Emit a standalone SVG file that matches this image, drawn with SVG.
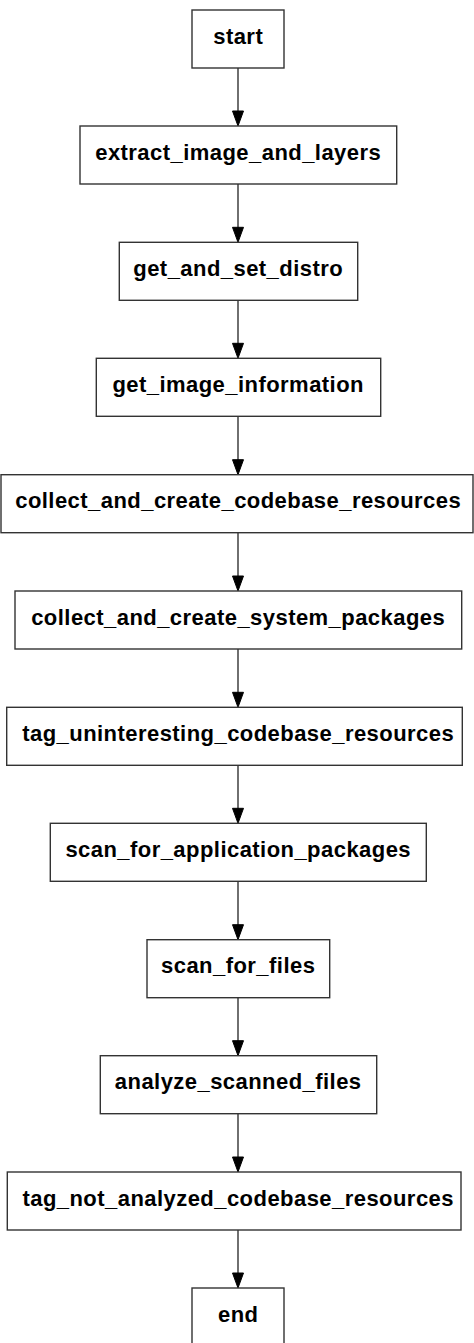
<svg xmlns="http://www.w3.org/2000/svg" width="474" height="1343" viewBox="0 0 474 1343">
<style>
.n rect{fill:#fff;stroke:#333;stroke-width:1.4}
.n text{font-family:"Liberation Sans",Arial,sans-serif;font-weight:bold;font-size:22px;letter-spacing:0.45px;fill:#000;text-anchor:middle}
.e line{stroke:#333;stroke-width:1.4}
.e polygon{fill:#000;stroke:#000;stroke-width:1}
</style>
<rect width="474" height="1343" fill="#fff"/>
<g class="e">
<line x1="238" y1="68" x2="238" y2="112"/><polygon points="232.5,111 243.5,111 238,126"/>
<line x1="238" y1="184" x2="238" y2="228"/><polygon points="232.5,227.3 243.5,227.3 238,242.3"/>
<line x1="238" y1="300.3" x2="238" y2="344"/><polygon points="232.5,343.3 243.5,343.3 238,358.3"/>
<line x1="238" y1="416.3" x2="238" y2="460"/><polygon points="232.5,459.7 243.5,459.7 238,474.7"/>
<line x1="238" y1="532.7" x2="238" y2="577"/><polygon points="232.5,576 243.5,576 238,591"/>
<line x1="238" y1="649" x2="238" y2="693"/><polygon points="232.5,692.3 243.5,692.3 238,707.3"/>
<line x1="238" y1="765.3" x2="238" y2="809"/><polygon points="232.5,808.3 243.5,808.3 238,823.3"/>
<line x1="238" y1="881.3" x2="238" y2="925"/><polygon points="232.5,924.7 243.5,924.7 238,939.7"/>
<line x1="238" y1="997.7" x2="238" y2="1041"/><polygon points="232.5,1040.7 243.5,1040.7 238,1055.7"/>
<line x1="238" y1="1113.7" x2="238" y2="1158"/><polygon points="232.5,1157 243.5,1157 238,1172"/>
<line x1="238" y1="1230" x2="238" y2="1274"/><polygon points="232.5,1273 243.5,1273 238,1288"/>
</g>
<g id="start" class="n"><rect x="192" y="10" width="92" height="58"/><text x="238.2" y="43.5">start</text></g>
<g id="extract_image_and_layers" class="n"><rect x="80" y="126" width="316.7" height="58"/><text x="238.2" y="159.5">extract_image_and_layers</text></g>
<g id="get_and_set_distro" class="n"><rect x="119.3" y="242.3" width="238.4" height="58"/><text x="238.2" y="275.8">get_and_set_distro</text></g>
<g id="get_image_information" class="n"><rect x="96.3" y="358.3" width="284.4" height="58"/><text x="238.2" y="391.8">get_image_information</text></g>
<g id="collect_and_create_codebase_resources" class="n"><rect x="1" y="474.7" width="472" height="58"/><text x="238.2" y="508.2">collect_and_create_codebase_resources</text></g>
<g id="collect_and_create_system_packages" class="n"><rect x="15" y="591" width="446.7" height="58"/><text x="238.2" y="624.5">collect_and_create_system_packages</text></g>
<g id="tag_uninteresting_codebase_resources" class="n"><rect x="6.7" y="707.3" width="455.6" height="58"/><text x="238.2" y="740.8">tag_uninteresting_codebase_resources</text></g>
<g id="scan_for_application_packages" class="n"><rect x="50.3" y="823.3" width="376" height="58"/><text x="238.2" y="856.8">scan_for_application_packages</text></g>
<g id="scan_for_files" class="n"><rect x="147" y="939.7" width="182.7" height="58"/><text x="238.2" y="973.2">scan_for_files</text></g>
<g id="analyze_scanned_files" class="n"><rect x="100.3" y="1055.7" width="276.4" height="58"/><text x="238.2" y="1089.2">analyze_scanned_files</text></g>
<g id="tag_not_analyzed_codebase_resources" class="n"><rect x="7.3" y="1172" width="453.7" height="58"/><text x="238.2" y="1205.5">tag_not_analyzed_codebase_resources</text></g>
<g id="end" class="n"><rect x="192" y="1288" width="92" height="58"/><text x="238.2" y="1321.5">end</text></g>
</svg>
